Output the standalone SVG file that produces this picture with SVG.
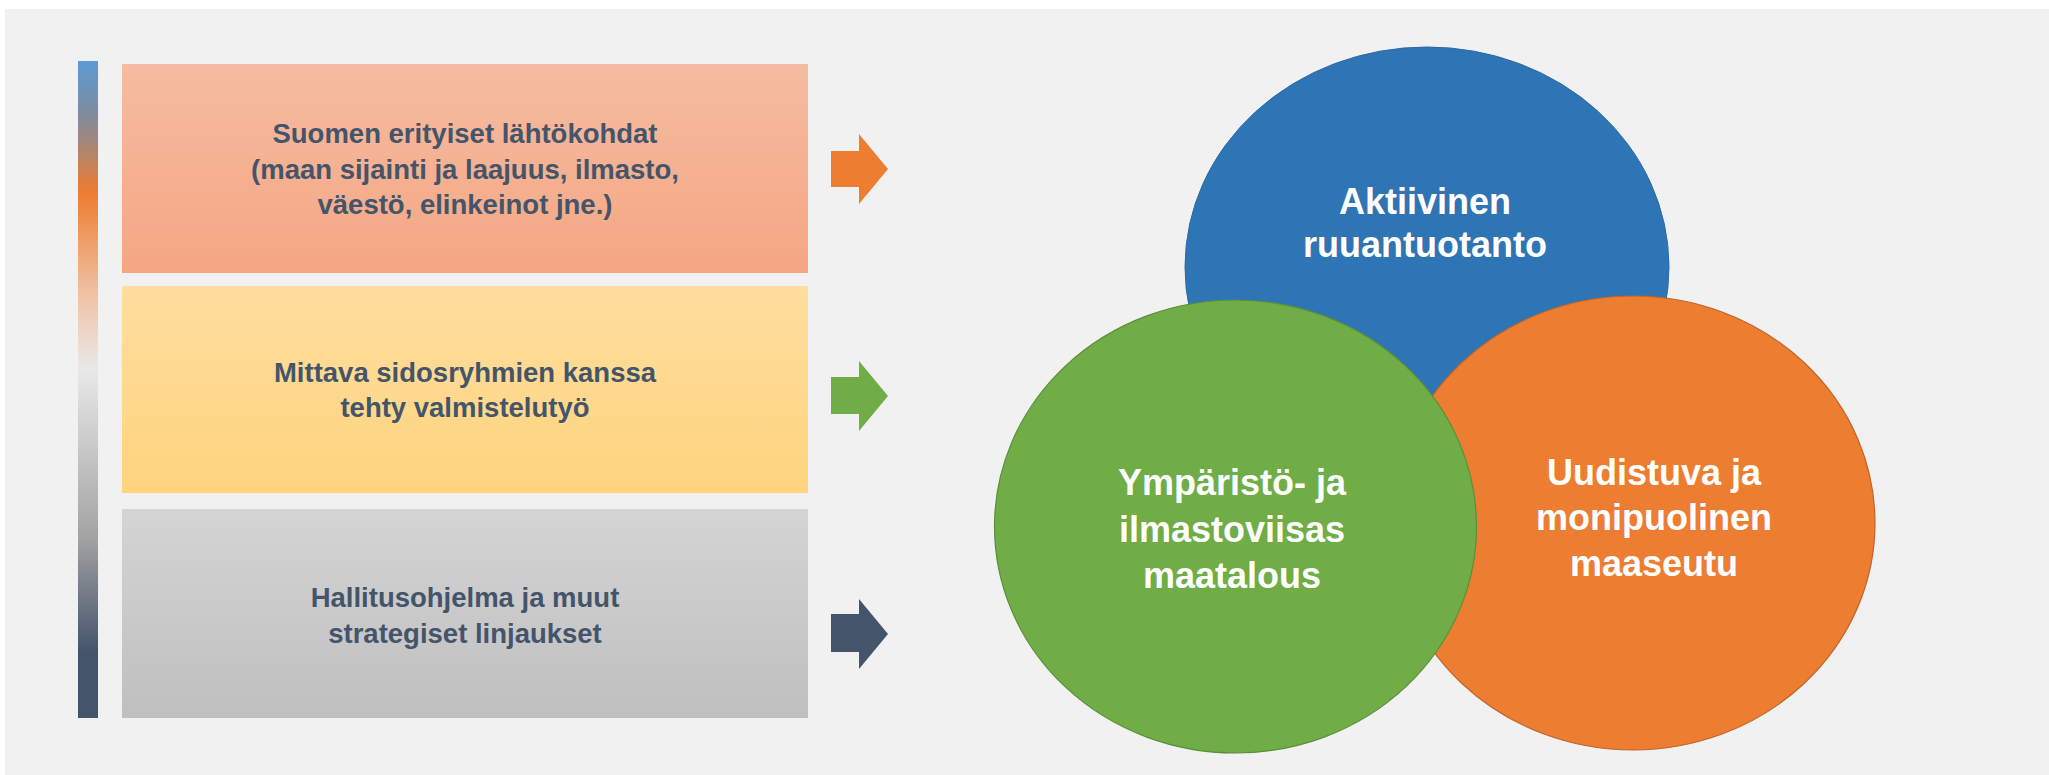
<svg xmlns="http://www.w3.org/2000/svg" width="2049" height="775" viewBox="0 0 2049 775">
  <defs>
    <linearGradient id="barGrad" x1="0" y1="0" x2="0" y2="1">
      <stop offset="0" stop-color="#5b9bd5"/>
      <stop offset="0.08" stop-color="#7c8ca0"/>
      <stop offset="0.2" stop-color="#ed7d31"/>
      <stop offset="0.36" stop-color="#f0c4a8"/>
      <stop offset="0.47" stop-color="#e8e8e8"/>
      <stop offset="0.72" stop-color="#a5a5a5"/>
      <stop offset="0.9" stop-color="#44546a"/>
      <stop offset="1" stop-color="#44546a"/>
    </linearGradient>
    <linearGradient id="g1" x1="0" y1="0" x2="0" y2="1">
      <stop offset="0" stop-color="#f5bca1"/>
      <stop offset="1" stop-color="#f5a683"/>
    </linearGradient>
    <linearGradient id="g2" x1="0" y1="0" x2="0" y2="1">
      <stop offset="0" stop-color="#fedd9e"/>
      <stop offset="1" stop-color="#fed47e"/>
    </linearGradient>
    <linearGradient id="g3" x1="0" y1="0" x2="0" y2="1">
      <stop offset="0" stop-color="#d4d4d4"/>
      <stop offset="1" stop-color="#bfbfbf"/>
    </linearGradient>
  </defs>
  <style>
    .btxt { font-family: "Liberation Sans", Arial, sans-serif; font-weight: bold; font-size: 27.5px; fill: #44546a; text-anchor: middle; }
    .ctxt { font-family: "Liberation Sans", Arial, sans-serif; font-weight: bold; font-size: 36px; fill: #ffffff; text-anchor: middle; }
  </style>
  <rect x="0" y="0" width="2049" height="775" fill="#ffffff"/>
  <rect x="5" y="9" width="2044" height="766" fill="#f1f1f1"/>

  <g id="side-bar">
    <rect x="78" y="61" width="20" height="657" fill="url(#barGrad)"/>
  </g>

  <g id="box1">
    <rect x="122" y="64" width="686" height="209" fill="url(#g1)"/>
    <text class="btxt" x="465" y="143">Suomen erityiset lähtökohdat</text>
    <text class="btxt" x="465" y="179">(maan sijainti ja laajuus, ilmasto,</text>
    <text class="btxt" x="465" y="214">väestö, elinkeinot jne.)</text>
  </g>
  <g id="box2">
    <rect x="122" y="286" width="686" height="207" fill="url(#g2)"/>
    <text class="btxt" x="465" y="382">Mittava sidosryhmien kanssa</text>
    <text class="btxt" x="465" y="417">tehty valmistelutyö</text>
  </g>
  <g id="box3">
    <rect x="122" y="509" width="686" height="209" fill="url(#g3)"/>
    <text class="btxt" x="465" y="607">Hallitusohjelma ja muut</text>
    <text class="btxt" x="465" y="643">strategiset linjaukset</text>
  </g>

  <g id="connectors">
    <polygon points="831,151 859,151 859,134 888,169 859,204 859,187 831,187" fill="#ed7d31"/>
    <polygon points="831,377 859,377 859,361 888,396 859,431 859,414 831,414" fill="#70ad47"/>
    <polygon points="831,614 859,614 859,599 888,634 859,669 859,652 831,652" fill="#44546a"/>
  </g>

  <g id="circle-blue">
    <ellipse cx="1427" cy="267" rx="242" ry="220" fill="#2e75b6" stroke="#2a69a4" stroke-width="1"/>
    <text class="ctxt" x="1425" y="214">Aktiivinen</text>
    <text class="ctxt" x="1425" y="257">ruuantuotanto</text>
  </g>
  <g id="circle-orange">
    <ellipse cx="1633" cy="523" rx="242" ry="227" fill="#ed7d31" stroke="#c0652a" stroke-width="1.2"/>
    <text class="ctxt" x="1654" y="485">Uudistuva ja</text>
    <text class="ctxt" x="1654" y="530">monipuolinen</text>
    <text class="ctxt" x="1654" y="576">maaseutu</text>
  </g>
  <g id="circle-green">
    <ellipse cx="1235.5" cy="526.5" rx="241" ry="226.5" fill="#70ad47" stroke="#5a8f3a" stroke-width="1.2"/>
    <text class="ctxt" x="1232" y="495">Ympäristö- ja</text>
    <text class="ctxt" x="1232" y="542">ilmastoviisas</text>
    <text class="ctxt" x="1232" y="588">maatalous</text>
  </g>
</svg>
